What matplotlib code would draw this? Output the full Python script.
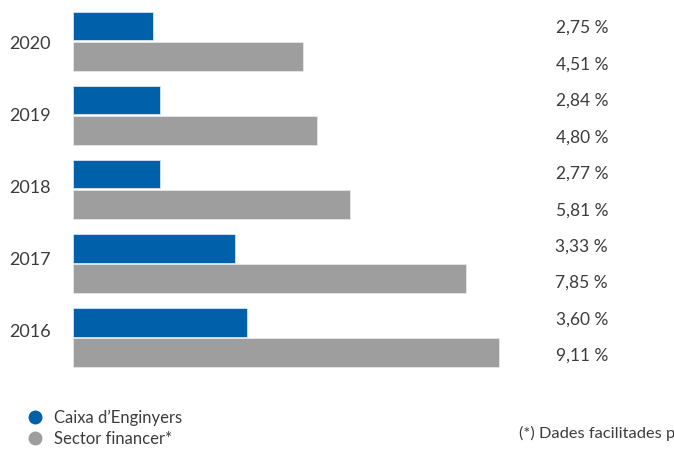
import matplotlib
matplotlib.use("Agg")
import matplotlib.pyplot as plt
from matplotlib.lines import Line2D
import numpy as np

years = ["2020", "2019", "2018", "2017", "2016"]
caixa_values = [2.75, 2.84, 2.77, 3.33, 3.60]
sector_values = [4.51, 4.80, 5.81, 7.85, 9.11]
# bar lengths as drawn in the source picture (its own scale)
caixa_bar = [80, 87, 87, 162, 174]
sector_bar = [230, 244, 277, 393, 426]
series_names = ["Caixa d\u2019Enginyers", "Sector financer*"]
footnote = "(*) Dades facilitades per la CECA"

BLUE = "#0060a9"
GREY = "#9e9e9e"
TXT = "#3c3c3c"
FONT = ["Lato", "DejaVu Sans"]
WEIGHT = "normal"

W, H = 674, 452
fig = plt.figure(figsize=(W / 100, H / 100), dpi=100)
ax_left = 73
ax_w = 600
ax = fig.add_axes([ax_left / W, 0, ax_w / W, 1])
ax.set_xlim(0, ax_w)
top_px, step_px = 42.25, 74.06
ax.set_ylim((H - top_px) / step_px, -top_px / step_px)

y = np.arange(len(years))
off, h = 0.205, 0.385
ax.barh(y - off, caixa_bar, height=h, color=BLUE, edgecolor="#d6e4f0", linewidth=0.6)
ax.barh(y + off, sector_bar, height=h, color=GREY, edgecolor="#e6e6e6", linewidth=0.6)

ax.set_yticks(y * 0.972)
ax.set_yticklabels(years, fontsize=13, color=TXT, family=FONT, fontweight=WEIGHT)
ax.tick_params(axis="y", length=0, pad=16)
ax.set_xticks([])
for s in ax.spines.values():
    s.set_visible(False)

# value labels, column on the right
label_x = 608 - ax_left
slots = (np.linspace(28, 356, 10) - top_px) / step_px
k = 0
for i in range(len(years)):
    for v in (caixa_values[i], sector_values[i]):
        ax.text(label_x, slots[k], f"{v:.2f} %".replace(".", ","), ha="right", va="center",
                fontsize=12.5, color=TXT, family=FONT, fontweight=WEIGHT)
        k += 1

handles = [Line2D([], [], marker="o", linestyle="none", markersize=9, color=c)
           for c in (BLUE, GREY)]
fig.legend(handles, series_names, loc="lower left", bbox_to_anchor=(0.012, -0.012),
           frameon=False, handletextpad=0.15, labelspacing=0.3,
           borderaxespad=0.2, labelcolor=TXT,
           prop={"family": FONT, "size": 12, "weight": WEIGHT})

fig.text(519 / W, 1 - 433 / H, footnote, ha="left", va="center", fontsize=11.8,
         color=TXT, family=FONT, fontweight=WEIGHT)

fig.savefig("out.png", dpi=100)
